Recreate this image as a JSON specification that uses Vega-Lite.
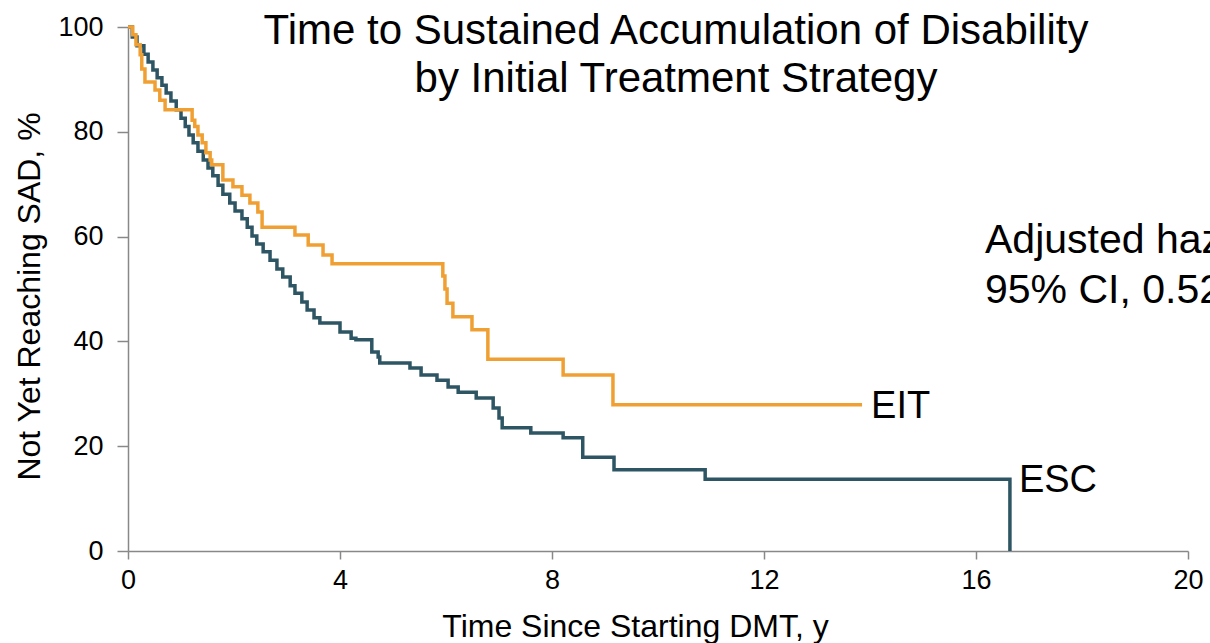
{
  "$schema": "https://vega.github.io/schema/vega-lite/v6.json",
  "width": 1060,
  "height": 524,
  "autosize": {"type": "none"},
  "padding": {"left": 128, "top": 27, "right": 22, "bottom": 92},
  "background": "white",
  "config": {"view": {"stroke": null}, "font": "Liberation Sans"},
  "datasets": {
    "km": [
      {"group": "ESC", "years": 0, "pct": 100},
      {"group": "ESC", "years": 0.08, "pct": 98.1},
      {"group": "ESC", "years": 0.17, "pct": 96.4},
      {"group": "ESC", "years": 0.3, "pct": 94.8},
      {"group": "ESC", "years": 0.38, "pct": 93.3},
      {"group": "ESC", "years": 0.47, "pct": 91.8},
      {"group": "ESC", "years": 0.55, "pct": 90.3},
      {"group": "ESC", "years": 0.64, "pct": 88.9},
      {"group": "ESC", "years": 0.72, "pct": 87.4},
      {"group": "ESC", "years": 0.81, "pct": 85.9},
      {"group": "ESC", "years": 0.91, "pct": 84.2},
      {"group": "ESC", "years": 1.0, "pct": 82.6},
      {"group": "ESC", "years": 1.08, "pct": 81.0},
      {"group": "ESC", "years": 1.15, "pct": 79.4},
      {"group": "ESC", "years": 1.23, "pct": 77.9},
      {"group": "ESC", "years": 1.32, "pct": 76.3},
      {"group": "ESC", "years": 1.42, "pct": 74.6},
      {"group": "ESC", "years": 1.51, "pct": 73.1},
      {"group": "ESC", "years": 1.6, "pct": 71.6},
      {"group": "ESC", "years": 1.7, "pct": 69.8},
      {"group": "ESC", "years": 1.79, "pct": 68.1},
      {"group": "ESC", "years": 1.92, "pct": 66.4},
      {"group": "ESC", "years": 2.02, "pct": 64.9},
      {"group": "ESC", "years": 2.15, "pct": 63.4},
      {"group": "ESC", "years": 2.25, "pct": 61.8},
      {"group": "ESC", "years": 2.34, "pct": 60.1},
      {"group": "ESC", "years": 2.43, "pct": 58.6},
      {"group": "ESC", "years": 2.55, "pct": 57.1},
      {"group": "ESC", "years": 2.68, "pct": 55.5},
      {"group": "ESC", "years": 2.81, "pct": 53.8},
      {"group": "ESC", "years": 2.92, "pct": 52.3},
      {"group": "ESC", "years": 3.06, "pct": 50.6},
      {"group": "ESC", "years": 3.15, "pct": 49.2},
      {"group": "ESC", "years": 3.28, "pct": 47.5},
      {"group": "ESC", "years": 3.38, "pct": 46.0},
      {"group": "ESC", "years": 3.51, "pct": 44.5},
      {"group": "ESC", "years": 3.62, "pct": 43.5},
      {"group": "ESC", "years": 4.0, "pct": 41.8},
      {"group": "ESC", "years": 4.21, "pct": 40.6},
      {"group": "ESC", "years": 4.3, "pct": 40.3},
      {"group": "ESC", "years": 4.6, "pct": 38.0},
      {"group": "ESC", "years": 4.72, "pct": 37.0},
      {"group": "ESC", "years": 4.75, "pct": 35.9},
      {"group": "ESC", "years": 5.32, "pct": 34.9},
      {"group": "ESC", "years": 5.53, "pct": 33.6},
      {"group": "ESC", "years": 5.83, "pct": 32.6},
      {"group": "ESC", "years": 6.04, "pct": 31.3},
      {"group": "ESC", "years": 6.23, "pct": 30.3},
      {"group": "ESC", "years": 6.57, "pct": 29.2},
      {"group": "ESC", "years": 6.89, "pct": 27.3},
      {"group": "ESC", "years": 7.0, "pct": 25.4},
      {"group": "ESC", "years": 7.06, "pct": 23.5},
      {"group": "ESC", "years": 7.6, "pct": 22.5},
      {"group": "ESC", "years": 8.21, "pct": 21.6},
      {"group": "ESC", "years": 8.58, "pct": 17.9},
      {"group": "ESC", "years": 9.17, "pct": 15.5},
      {"group": "ESC", "years": 10.89, "pct": 13.7},
      {"group": "ESC", "years": 16.64, "pct": 0},
      {"group": "EIT", "years": 0, "pct": 100},
      {"group": "EIT", "years": 0.09, "pct": 98.5},
      {"group": "EIT", "years": 0.15, "pct": 96.6},
      {"group": "EIT", "years": 0.23, "pct": 94.7},
      {"group": "EIT", "years": 0.26, "pct": 92.0},
      {"group": "EIT", "years": 0.32, "pct": 89.5},
      {"group": "EIT", "years": 0.51, "pct": 88.0},
      {"group": "EIT", "years": 0.6, "pct": 86.0},
      {"group": "EIT", "years": 0.7, "pct": 84.2},
      {"group": "EIT", "years": 1.21, "pct": 82.2},
      {"group": "EIT", "years": 1.26, "pct": 81.0},
      {"group": "EIT", "years": 1.32, "pct": 79.4},
      {"group": "EIT", "years": 1.4, "pct": 77.9},
      {"group": "EIT", "years": 1.47, "pct": 76.0},
      {"group": "EIT", "years": 1.55, "pct": 74.6},
      {"group": "EIT", "years": 1.58, "pct": 73.7},
      {"group": "EIT", "years": 1.79, "pct": 70.8},
      {"group": "EIT", "years": 1.98, "pct": 69.5},
      {"group": "EIT", "years": 2.15, "pct": 67.9},
      {"group": "EIT", "years": 2.3, "pct": 66.4},
      {"group": "EIT", "years": 2.45, "pct": 64.7},
      {"group": "EIT", "years": 2.53, "pct": 61.8},
      {"group": "EIT", "years": 3.15, "pct": 60.3},
      {"group": "EIT", "years": 3.4, "pct": 58.4},
      {"group": "EIT", "years": 3.68, "pct": 56.5},
      {"group": "EIT", "years": 3.85, "pct": 54.8},
      {"group": "EIT", "years": 5.94, "pct": 52.5},
      {"group": "EIT", "years": 5.98, "pct": 50.0},
      {"group": "EIT", "years": 6.02, "pct": 47.3},
      {"group": "EIT", "years": 6.13, "pct": 44.7},
      {"group": "EIT", "years": 6.49, "pct": 42.2},
      {"group": "EIT", "years": 6.79, "pct": 36.6},
      {"group": "EIT", "years": 8.21, "pct": 33.6},
      {"group": "EIT", "years": 9.15, "pct": 27.9},
      {"group": "EIT", "years": 13.85, "pct": 27.9}
    ]
  },
  "layer": [
    {
      "data": {"name": "km"},
      "mark": {"type": "line", "interpolate": "step-after", "strokeWidth": 3.5, "clip": false},
      "encoding": {
        "x": {
          "field": "years", "type": "quantitative",
          "scale": {"domain": [0, 20], "nice": false, "zero": true},
          "axis": {
            "title": "Time Since Starting DMT, y",
            "values": [0, 4, 8, 12, 16, 20],
            "grid": false,
            "labelFontSize": 27, "labelColor": "#000", "labelPadding": 8, "labelFlush": false,
            "tickSize": 8, "tickColor": "#888", "tickWidth": 1.5,
            "domainColor": "#888", "domainWidth": 1.5,
            "titleFontSize": 32, "titleFontWeight": "normal", "titleColor": "#000", "titlePadding": 18,
            "titleX": 507
          }
        },
        "y": {
          "field": "pct", "type": "quantitative",
          "scale": {"domain": [0, 100], "nice": false},
          "axis": {
            "title": "Not Yet Reaching SAD, %",
            "values": [0, 20, 40, 60, 80, 100],
            "grid": false,
            "labelFontSize": 27, "labelColor": "#000", "labelPadding": 14,
            "tickSize": 11, "tickColor": "#888", "tickWidth": 1.5,
            "domainColor": "#888", "domainWidth": 1.5,
            "titleFontSize": 32, "titleFontWeight": "normal", "titleColor": "#000", "titlePadding": 11,
            "titleY": 269
          }
        },
        "color": {
          "field": "group", "type": "nominal",
          "scale": {"domain": ["EIT", "ESC"], "range": ["#F0A033", "#2D5563"]},
          "legend": null
        }
      }
    },
    {
      "data": {"values": [{}]},
      "mark": {"type": "text", "align": "left", "baseline": "middle", "fontSize": 38, "dx": 9, "color": "#000"},
      "encoding": {"x": {"datum": 13.85}, "y": {"datum": 27.4}, "text": {"value": "EIT"}}
    },
    {
      "data": {"values": [{}]},
      "mark": {"type": "text", "align": "left", "baseline": "middle", "fontSize": 38, "dx": 9, "color": "#000"},
      "encoding": {"x": {"datum": 16.64}, "y": {"datum": 13.3}, "text": {"value": "ESC"}}
    },
    {
      "data": {"values": [{}]},
      "mark": {"type": "text", "align": "center", "baseline": "middle", "fontSize": 42, "color": "#000"},
      "encoding": {"x": {"datum": 10.34}, "y": {"datum": 99.2}, "text": {"value": "Time to Sustained Accumulation of Disability"}}
    },
    {
      "data": {"values": [{}]},
      "mark": {"type": "text", "align": "center", "baseline": "middle", "fontSize": 42, "color": "#000"},
      "encoding": {"x": {"datum": 10.34}, "y": {"datum": 90.0}, "text": {"value": "by Initial Treatment Strategy"}}
    },
    {
      "data": {"values": [{}]},
      "mark": {"type": "text", "align": "left", "baseline": "middle", "fontSize": 41, "color": "#000", "lineHeight": 50},
      "encoding": {"x": {"datum": 16.17}, "y": {"datum": 59.2}, "text": {"value": ["Adjusted hazard", "95% CI, 0.52"]}}
    }
  ]
}
